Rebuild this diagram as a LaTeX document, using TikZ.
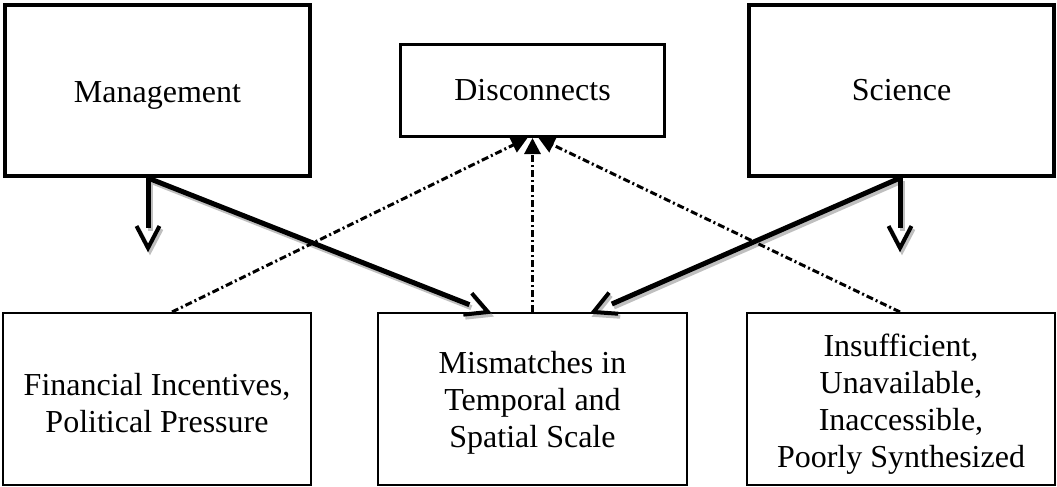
\documentclass[tikz,border=0pt]{standalone}
\usepackage{fontspec}
\setmainfont{Liberation Serif}
\usetikzlibrary{arrows.meta,calc}
\newcommand\vArrow[3][]{%
  \draw[stemline,#1,shorten >=20pt] (#2) -- (#3);
  \draw[vline,#1] ($(#3)!24.8pt!27.6:(#2)$) -- (#3) -- ($(#3)!24.8pt!-27.6:(#2)$);
}
\begin{document}
\begin{tikzpicture}[x=1pt,y=-1pt,
  box/.style={draw, rectangle, inner sep=0pt},
  topbox/.style={box, line width=4pt},
  midbox/.style={box, line width=3pt},
  botbox/.style={box, line width=2pt},
  label32/.style={align=center, inner sep=0pt, font=\fontsize{32}{37}\selectfont},
  stemline/.style={line width=5pt},
  vline/.style={line width=4pt, line join=miter},
  shadowline/.style={black!25, transform canvas={shift={(2pt,-3pt)}}},
  dashdot/.style={line width=3pt, dash pattern=on 7pt off 3pt on 2pt off 3pt, -{Triangle[length=16pt,width=16pt]}},
]
\useasboundingbox (0,0) rectangle (1057,487);

\node[topbox, minimum width=305pt, minimum height=171pt] (man) at (157.5,90.5) {};
\node[label32] (mant) at (157.5,95) {Management};
\node[midbox, minimum width=264pt, minimum height=92pt, label32] (dis) at (532.5,90.5) {Disconnects};
\node[topbox, minimum width=305pt, minimum height=171pt, label32] (sci) at (901.5,90.5) {Science};
\node[botbox, minimum width=308pt, minimum height=172pt] (fin) at (157,399) {};
\node[label32] (fint) at (157,403) {Financial Incentives,\\Political Pressure};
\node[botbox, minimum width=309pt, minimum height=172pt] (mis) at (532.5,399) {};
\node[label32] (mist) at (532.5,402.5) {Mismatches in\\Temporal and\\Spatial Scale};
\node[botbox, minimum width=308pt, minimum height=172pt] (ins) at (901,399) {};
\node[label32] (inst) at (901,404) {Insufficient,\\Unavailable,\\Inaccessible,\\Poorly Synthesized};

\coordinate (mj) at ([xshift=-9.5pt]man.south);
\coordinate (sj) at ([xshift=-1.5pt]sci.south);
\coordinate (mdown) at (148,248);
\coordinate (sdown) at (900,248);
\coordinate (mis-l) at ([xshift=-44.5pt]mis.north);
\coordinate (mis-r) at ([xshift=61pt]mis.north);

% shadows
\vArrow[shadowline]{mj}{mdown}
\vArrow[shadowline]{mj}{mis-l}
\vArrow[shadowline]{sj}{sdown}
\vArrow[shadowline]{sj}{mis-r}

% solid arrows
\vArrow{mj}{mdown}
\vArrow{mj}{mis-l}
\vArrow{sj}{sdown}
\vArrow{sj}{mis-r}

% dash-dot arrows
\draw[dashdot] ([xshift=15pt]fin.north) -- ([xshift=-5pt]dis.south);
\draw[dashdot] (mis.north) -- (dis.south);
\draw[dashdot] ([xshift=-1pt]ins.north) -- ([xshift=6pt]dis.south);
\end{tikzpicture}
\end{document}
